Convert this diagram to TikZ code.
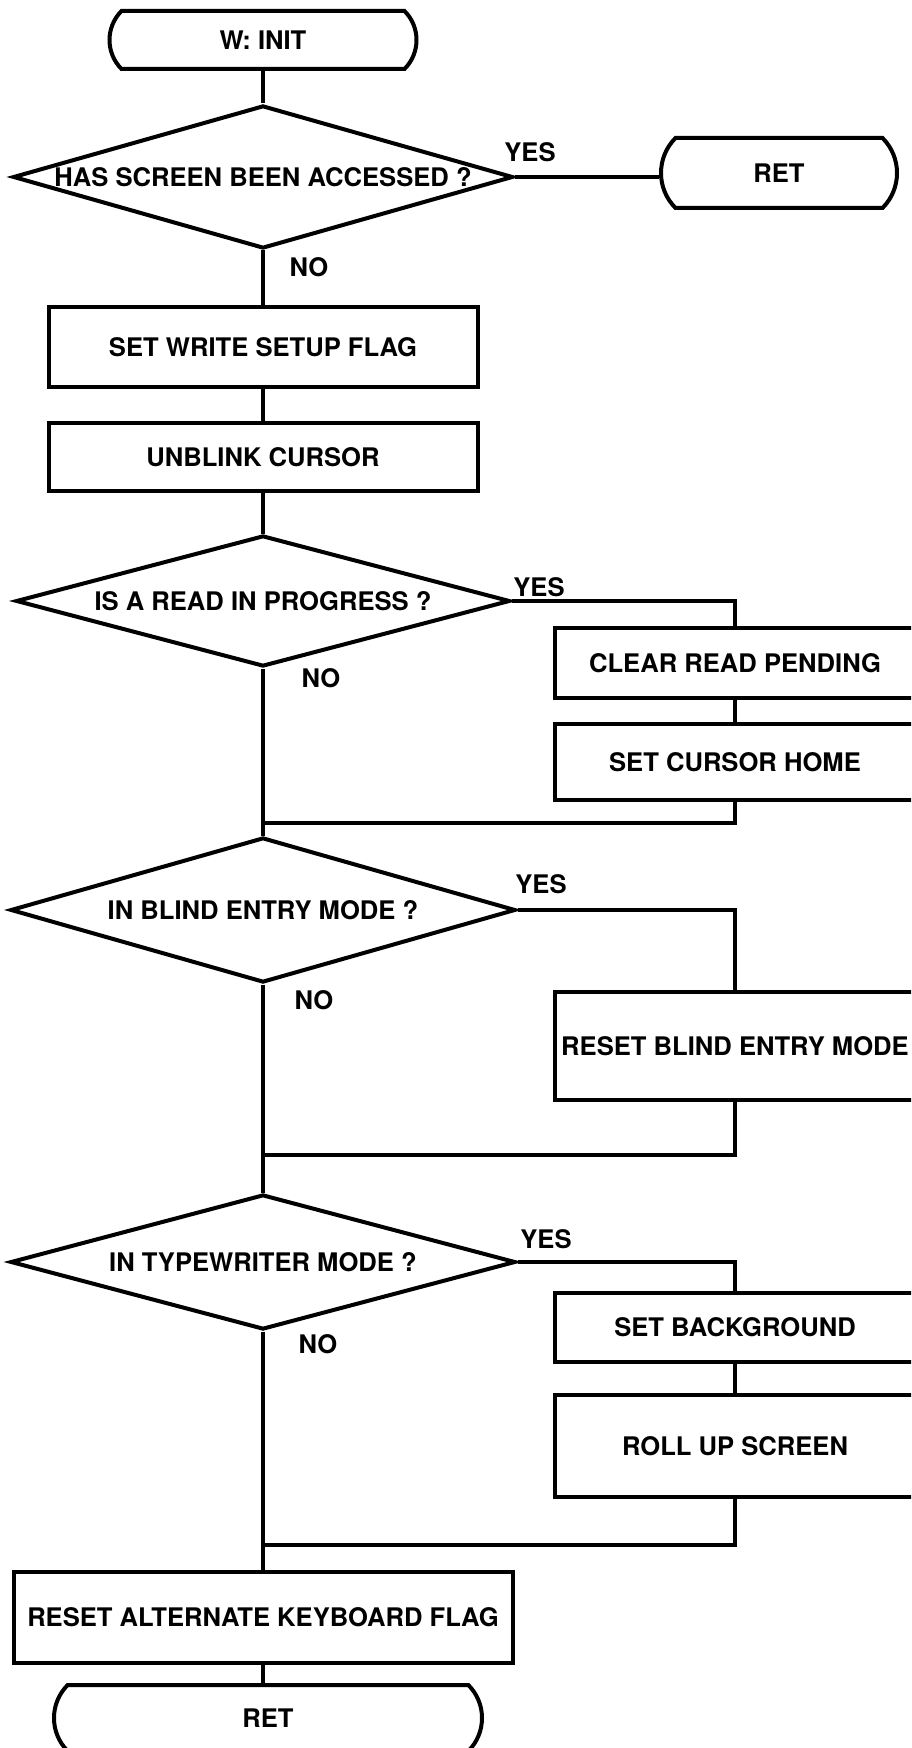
\documentclass[tikz,border=0pt]{standalone}
\usepackage{fontspec}
\setmainfont{TeX Gyre Heros}
\usetikzlibrary{shapes.geometric,shapes.misc}
\tikzset{
  testo/.style={font=\bfseries\fontsize{12.8}{14}\selectfont},
  blocco/.style={testo, draw, line width=2pt, rectangle, inner sep=0pt},
  termine/.style={testo, draw, line width=2pt, rounded rectangle, rounded rectangle arc length=90, inner sep=0pt},
  scelta/.style={testo, draw, line width=2pt, diamond, shape aspect=3.5, inner sep=0pt},
  etichetta/.style={testo, inner sep=0pt},
  linea/.style={line width=1.7pt}
}
\begin{document}
\begin{tikzpicture}[x=0.5pt, y=0.5pt]
    \useasboundingbox (0,0) rectangle (911,-1748);
    \clip (0,0) rectangle (911,-1748);
    % Inizio e primo test
    \node[termine, minimum width=153.5pt, minimum height=29pt] (init) at (263,-40) {W: INIT};
    \node[scelta, minimum width=250pt, minimum height=71.5pt] (q1) at (263,-177) {HAS SCREEN BEEN ACCESSED ?};
    \node[termine, minimum width=118pt, minimum height=35pt] (ret1) at (779,-173) {RET};
    \node[etichetta] (y1) at (530,-152) {YES};
    \node[etichetta] (n1) at (309,-267) {NO};
    \draw[linea] (init.south) -- (q1.north);
    \draw[linea] (q1.east) -- (q1.east -| ret1.west);
    % Blocchi principali
    \node[blocco, minimum width=214.5pt, minimum height=40pt] (flag) at (263,-347) {SET WRITE SETUP FLAG};
    \node[blocco, minimum width=214.5pt, minimum height=34pt] (cursor) at (263,-457) {UNBLINK CURSOR};
    \draw[linea] (q1.south) -- (flag.north);
    \draw[linea] (flag) -- (cursor);
    % Lettura in corso
    \node[scelta, minimum width=247pt, minimum height=65.5pt] (q2) at (263,-601) {IS A READ IN PROGRESS ?};
    \node[etichetta] (y2) at (539,-587) {YES};
    \node[etichetta] (n2) at (321,-678) {NO};
    \node[blocco, minimum width=180pt, minimum height=35pt] (pending) at (735,-663) {CLEAR READ PENDING};
    \node[blocco, minimum width=180pt, minimum height=38pt] (home) at (735,-762) {SET CURSOR HOME};
    \coordinate (j2) at (263,-823);
    \draw[linea] (cursor) -- (q2);
    \draw[linea] (q2.east) -| (pending.north);
    \draw[linea] (pending) -- (home);
    \draw[linea] (home.south) |- (j2);
    % Modo cieco
    \node[scelta, minimum width=252.5pt, minimum height=72.5pt] (q3) at (263,-910) {IN BLIND ENTRY MODE ?};
    \node[etichetta] (y3) at (541,-884) {YES};
    \node[etichetta] (n3) at (314,-1000) {NO};
    \node[blocco, minimum width=180pt, minimum height=54pt] (blind) at (735,-1046) {RESET BLIND ENTRY MODE};
    \coordinate (j3) at (263,-1155);
    \draw[linea] (q2.south) -- (q3.north);
    \draw[linea] (q3.east) -| (blind.north);
    \draw[linea] (blind.south) |- (j3);
    % Macchina da scrivere
    \node[scelta, minimum width=252.5pt, minimum height=67.5pt] (q4) at (263,-1262) {IN TYPEWRITER MODE ?};
    \node[etichetta] (y4) at (546,-1239) {YES};
    \node[etichetta] (n4) at (318,-1344) {NO};
    \node[blocco, minimum width=180pt, minimum height=34.5pt] (sfondo) at (735,-1327) {SET BACKGROUND};
    \node[blocco, minimum width=180pt, minimum height=51pt] (rollup) at (735,-1446) {ROLL UP SCREEN};
    \coordinate (j4) at (263,-1545);
    \draw[linea] (q3.south) -- (q4.north);
    \draw[linea] (q4.east) -| (sfondo.north);
    \draw[linea] (sfondo) -- (rollup);
    \draw[linea] (rollup.south) |- (j4);
    % Fine
    \node[blocco, minimum width=249.5pt, minimum height=45.5pt] (tastiera) at (263,-1617) {RESET ALTERNATE KEYBOARD FLAG};
    \node[termine, minimum width=214pt, minimum height=33pt] (ret2) at (268,-1718) {RET};
    \draw[linea] (q4.south) -- (tastiera.north);
    \draw[linea] (tastiera.south) -- (tastiera.south |- ret2.north);
\end{tikzpicture}
\end{document}
